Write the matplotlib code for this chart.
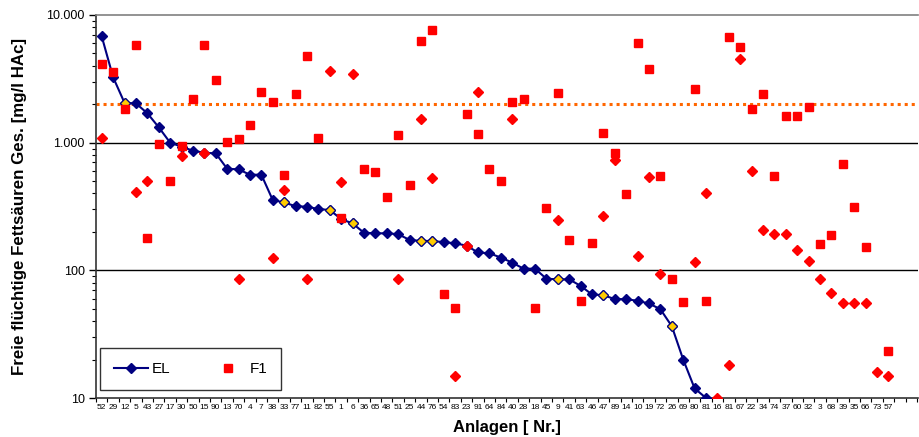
import numpy as np
import matplotlib
matplotlib.use('Agg')
import matplotlib.pyplot as plt
from matplotlib.ticker import FixedLocator, NullFormatter

plt.rcParams['font.family'] = ['Liberation Sans', 'DejaVu Sans']

# Anlagen-Nummern (x-Achse)
anlagen = ['52', '29', '12', '5', '43', '27', '17', '30', '50', '15', '90', '13', '70', '4',
           '7', '38', '33', '77', '11', '82', '55', '1', '6', '36', '65', '48', '51', '25',
           '44', '76', '54', '83', '23', '91', '64', '84', '40', '28', '18', '45', '9', '41',
           '63', '46', '47', '89', '14', '10', '19', '72', '26', '69', '80', '81', '16', '81',
           '67', '22', '34', '74', '37', '60', '32', '3', '68', '39', '35', '66', '73', '57']

# EL (sortiert, absteigend)
el = [6800, 3250, 2050, 2030, 1700, 1320, 1000, 930, 865, 834, 824, 625, 618, 561,
      561, 355, 340, 318, 315, 302, 297, 252, 233, 197, 195, 195, 192, 173,
      170, 170, 166, 163, 156, 138, 136, 126, 115, 103, 103, 86, 85, 85,
      75.6, 64.7, 63.9, 59.5, 59.5, 57.7, 55, 49.6, 36.5, 20, 11.9, 10]
# EL-Punkte mit gelber Markierung
el_gelb = [2, 16, 20, 22, 28, 29, 40, 44, 50]

# F1 (Quadrate)
f1 = [4100, 3560, 1825, 5820, 180, 975, 503, 940, 2185, 5820, 3095, 1005, 1061, 1366,
      2480, 2094, 554, 2404, 4800, 1080, None, 255, None, 618, 585, 377, 1148, 465,
      6260, 7630, 65, 51, 1667, 1168, 620, 503, 2080, 2185, 51, 307, 2440, 173,
      58, 164, 1196, 834, 396, 6070, 3775, 547, 86, 57, 2647, 58, None, 6760,
      5650, 1834, 2404, 547, 1616, 1616, 1890, 160, 189, 676, 315, 153, None, 23.3]

# weitere Messreihe (rote Rauten, ohne Legende)
f2 = [1080, None, None, 412, 503, None, None, 789, None, 834, None, None, 86, None,
      None, 126, 425, None, 85, None, 3640, 494, 3430, None, None, None, 86, None,
      1540, 525, None, 14.9, 155, 2505, None, None, 1540, None, None, None, 250, None,
      None, None, 267, 730, None, 130, 541, 93, None, None, 117, 401, 10, 18.1,
      4520, 599, 207, 192, 192, 144, 119, 86, 66.6, 55.7, 55.7, 55.7, 16, 14.9]

grenzwert = 2000

def arr(v):
    return np.array([np.nan if x is None else x for x in v], dtype=float)

fig = plt.figure(figsize=(9.19, 4.37), dpi=100)
ax = fig.add_axes([0.1045, 0.0892, 0.8945, 0.8765])

x_el = np.arange(len(el))
x_all = np.arange(len(anlagen))
el_a = arr(el)

ax.axhline(1000, color='black', lw=1, zorder=1)
ax.axhline(100, color='black', lw=1, zorder=1)
ax.axhline(grenzwert, color='#FF6600', lw=2.2, ls=(0, (1, 1.3)), zorder=2)

ax.plot(x_el, el_a, color='#000080', lw=1.5, marker='D', ms=4.7,
        mfc='#000080', mec='#000080', label='EL', zorder=3)
ax.plot(x_el[el_gelb], el_a[el_gelb], ls='none', marker='D', ms=4.7,
        mfc='#FFCC00', mec='#000080', mew=0.8, zorder=4)
ax.plot(x_all, arr(f1), ls='none', marker='s', ms=5.8, mfc='#FF0000', mec='#FF0000',
        label='F1', zorder=5)
ax.plot(x_all, arr(f2), ls='none', marker='D', ms=4.9, mfc='#FF0000', mec='#FF0000',
        zorder=6)

ax.set_yscale('log')
ax.set_ylim(10, 10000)
ax.set_xlim(-0.5, 71.6)
ax.set_yticks([10, 100, 1000, 10000])
ax.set_yticklabels(['10', '100', '1.000', '10.000'], fontsize=9)
ax.yaxis.set_minor_locator(FixedLocator([m * 10 ** e for e in range(1, 4) for m in range(2, 10)]))
ax.yaxis.set_minor_formatter(NullFormatter())
ax.tick_params(axis='y', which='major', length=5, width=1, direction='out', pad=3)
ax.tick_params(axis='y', which='minor', length=3, width=0.8, direction='out')

ax.set_xticks(x_all)
ax.set_xticklabels(anlagen, fontsize=6)
ax.xaxis.set_minor_locator(FixedLocator(np.arange(-0.5, 72, 1)))
ax.tick_params(axis='x', which='major', length=0, pad=4)
ax.tick_params(axis='x', which='minor', length=3, width=0.8, direction='out')

for s in ['left', 'bottom']:
    ax.spines[s].set_color('#333333')
    ax.spines[s].set_linewidth(1.2)
ax.spines['top'].set_color('#808080')
ax.spines['top'].set_linewidth(1.2)
ax.spines['right'].set_visible(False)

ax.set_ylabel('Freie flüchtige Fettsäuren Ges. [mg/l HAc]', fontsize=12.2, fontweight='bold', labelpad=14)
ax.set_xlabel('Anlagen [ Nr.]', fontsize=12, fontweight='bold', labelpad=7)

leg = ax.legend(loc='lower left', bbox_to_anchor=(0.005, 0.021, 0.22, 0.136), mode='expand',
                ncol=2, fontsize=11, frameon=True, fancybox=False, borderaxespad=0,
                handlelength=2.2, handletextpad=0.3, borderpad=0.9)
leg.get_frame().set_edgecolor('black')
leg.get_frame().set_linewidth(1)

fig.savefig('out.png', dpi=100)
